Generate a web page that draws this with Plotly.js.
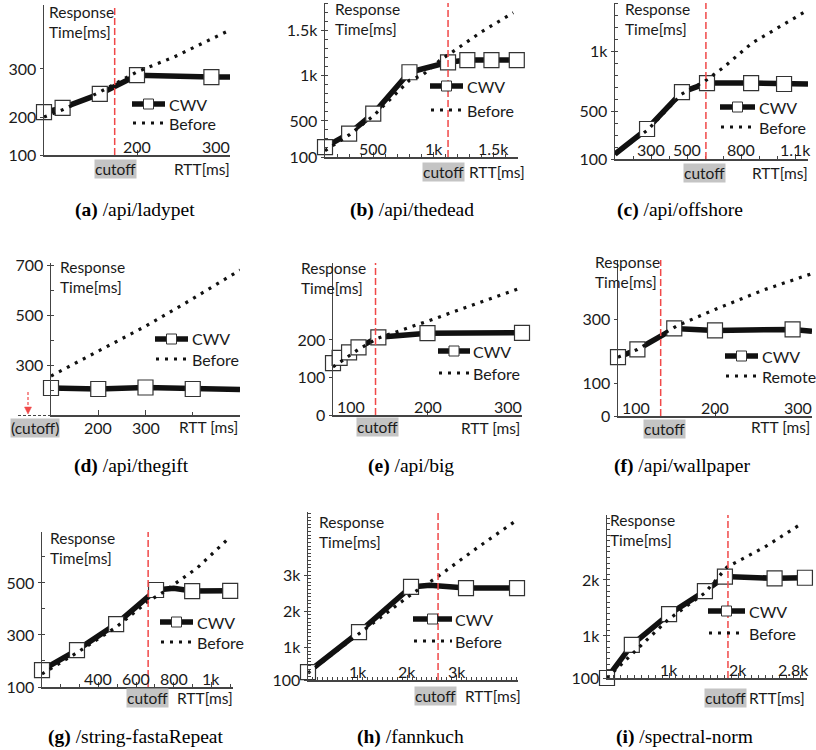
<!DOCTYPE html>
<html><head><meta charset="utf-8">
<script src="https://cdn.plot.ly/plotly-3.0.1.min.js"></script>
<style>body{margin:0;background:#fff}#chart{width:816px;height:750px}</style>
</head><body><div id="chart"></div>
<script>
// ---------- DATA ----------
const seriesNames = ['CWV', 'Before'];
const seriesNamesF = ['CWV', 'Remote'];
const captions = ['<b>(a)</b> /api/ladypet', '<b>(b)</b> /api/thedead', '<b>(c)</b> /api/offshore',
  '<b>(d)</b> /api/thegift', '<b>(e)</b> /api/big', '<b>(f)</b> /api/wallpaper',
  '<b>(g)</b> /string-fastaRepeat', '<b>(h)</b> /fannkuch', '<b>(i)</b> /spectral-norm'];
const yAxisTitle = 'Response<br>Time[ms]';
const cutoffLabel = 'cutoff';

// (a)
const a_rtt = [100, 120, 160, 200, 280, 300];
const a_cwv = [210, 219, 248, 287, 283, 283];
const a_mark = [1, 1, 1, 1, 1, 0];
const a_bRtt = [100, 120, 160, 200, 240, 300];
const a_before = [200, 215, 252, 294, 325, 381];
const a_cut = 176;
const a_xTicks = [200, 300], a_xText = ['200', '300'];
const a_yTicks = [121, 200, 300], a_yText = ['100', '200', '300'];
// (b)
const b_rtt = [100, 300, 500, 800, 1120, 1280, 1480, 1690];
const b_cwv = [210, 360, 580, 1040, 1150, 1175, 1175, 1175];
const b_mark = [1, 1, 1, 1, 1, 1, 1, 1];
const b_bRtt = [100, 300, 500, 800, 910, 1050, 1140, 1400, 1660];
const b_before = [170, 345, 555, 950, 1010, 1170, 1250, 1490, 1700];
const b_cut = 1120;
const b_xTicks = [500, 1000, 1500], b_xText = ['500', '1k', '1.5k'];
const b_yTicks = [100, 500, 1000, 1500], b_yText = ['100', '500', '1k', '1.5k'];
// (c)
const c_rtt = [100, 278, 472, 611, 856, 1039, 1172];
const c_cwv = [142, 350, 658, 733, 733, 725, 725];
const c_mark = [0, 1, 1, 1, 1, 1, 0];
const c_bRtt = [100, 280, 470, 600, 700, 860, 1170];
const c_before = [140, 340, 640, 750, 860, 1065, 1340];
const c_cut = 605;
const c_xTicks = [300, 500, 800, 1100], c_xText = ['300', '500', '800', '1.1k'];
const c_yTicks = [100, 500, 1000], c_yText = ['100', '500', '1k'];
// (d)
const d_rtt = [100, 200, 300, 400, 500];
const d_cwv = [208, 204, 210, 204, 202];
const d_mark = [1, 1, 1, 1, 0];
const d_bRtt = [100, 200, 300, 400, 500];
const d_before = [256, 355, 455, 565, 680];
const d_cut = null;
const d_xTicks = [200, 300], d_xText = ['200', '300'];
const d_yTicks = [300, 500, 700], d_yText = ['300', '500', '700'];
// (e)
const e_rtt = [100, 107, 117, 127, 148, 200, 300];
const e_cwv = [138, 152, 167, 180, 207, 218, 219];
const e_mark = [1, 1, 1, 1, 1, 1, 1];
const e_bRtt = [100, 127, 148, 200, 300];
const e_before = [128, 175, 205, 250, 340];
const e_cut = 145;
const e_xTicks = [100, 200, 300], e_xText = ['100', '200', '300'];
const e_yTicks = [0, 100, 200], e_yText = ['0', '100', '200'];
// (f)
const f_rtt = [100, 120, 158, 200, 280, 300];
const f_cwv = [182, 206, 271, 265, 268, 262];
const f_mark = [1, 1, 1, 1, 1, 0];
const f_bRtt = [100, 120, 160, 200, 250, 300];
const f_before = [182, 206, 278, 330, 390, 441];
const f_cut = 144;
const f_xTicks = [100, 200, 300], f_xText = ['100', '200', '300'];
const f_yTicks = [0, 100, 300], f_yText = ['0', '100', '300'];
// (g)
const g_rtt = [100, 286, 494, 706, 800, 898, 1100];
const g_cwv = [165, 242, 342, 473, 480, 469, 470];
const g_mark = [1, 1, 1, 1, 0, 1, 1];
const g_bRtt = [100, 286, 494, 660, 745, 925, 1100];
const g_before = [150, 232, 330, 427, 465, 558, 677];
const g_cut = 664;
const g_xTicks = [400, 600, 800, 1000], g_xText = ['400', '600', '800', '1k'];
const g_yTicks = [100, 300, 500], g_yText = ['100', '300', '500'];
// (h)
const h_rtt = [0, 1030, 2080, 2460, 3190, 4220];
const h_cwv = [320, 1420, 2670, 2720, 2640, 2640];
const h_mark = [1, 1, 1, 0, 1, 1];
const h_bRtt = [0, 1030, 2120, 2610, 3410, 4220];
const h_before = [290, 1380, 2500, 2945, 3745, 4520];
const h_cut = 2626;
const h_xTicks = [1000, 2000, 3000], h_xText = ['1k', '2k', '3k'];
const h_yTicks = [100, 1000, 2000, 3000], h_yText = ['100', '1k', '2k', '3k'];
// (i)
const i_rtt = [100, 460, 1000, 1520, 1810, 2530, 2970];
const i_cwv = [250, 840, 1390, 1800, 2060, 2030, 2040];
const i_mark = [1, 1, 1, 1, 1, 1, 1];
const i_bRtt = [100, 530, 985, 1520, 1840, 2390, 2940];
const i_before = [250, 750, 1290, 1770, 2230, 2590, 3020];
const i_cut = 1854;
const i_xTicks = [1000, 2000, 2800], i_xText = ['1k', '2k', '2.8k'];
const i_yTicks = [250, 1000, 2000], i_yText = ['100', '1k', '2k'];

// ---------- LAYOUT ----------
const W = 816, H = 750;
const PX = v => v / W, PY = v => 1 - v / H;
const FONT = 'Lato, "Open Sans", sans-serif';
const SERIF = '"Liberation Serif", "DejaVu Serif", serif';
const TXT = '#1a1a1a';
const AX = '#444';
const TICKSIZE = 16;
const LABELSIZE = 15.5;

const panels = [
  {rtt:a_rtt, cwv:a_cwv, mark:a_mark, bRtt:a_bRtt, before:a_before, cut:a_cut, xT:a_xTicks, xL:a_xText, yT:a_yTicks, yL:a_yText,
   box:[44,5,230,155], xr:[100,300], yr:[121,433], xMinor:null, yMinor:null, below:false,
   leg:[132,165,104,123,167], names:seriesNames, resp:[47,12], rttLab:[232,169,'RTT[ms]'], cutBox:[115,169], cap:[135,210]},
  {rtt:b_rtt, cwv:b_cwv, mark:b_mark, bRtt:b_bRtt, before:b_before, cut:b_cut, xT:b_xTicks, xL:b_xText, yT:b_yTicks, yL:b_yText,
   box:[325,3,518,157], xr:[100,1700], yr:[100,1808], xMinor:100, yMinor:100, below:false,
   leg:[430,463,86,110,465], names:seriesNames, resp:[333,9], rttLab:[527,172,'RTT[ms]'], cutBox:[444,172], cap:[412,210]},
  {rtt:c_rtt, cwv:c_cwv, mark:c_mark, bRtt:c_bRtt, before:c_before, cut:c_cut, xT:c_xTicks, xL:c_xText, yT:c_yTicks, yL:c_yText,
   box:[615,3,808,159], xr:[100,1172], yr:[100,1400], xMinor:100, yMinor:100, below:false,
   leg:[720,755,107,127,757], names:seriesNames, resp:[623,9], rttLab:[810,173,'RTT[ms]'], cutBox:[704,173], cap:[680,210]},
  {rtt:d_rtt, cwv:d_cwv, mark:d_mark, bRtt:d_bRtt, before:d_before, cut:d_cut, xT:d_xTicks, xL:d_xText, yT:d_yTicks, yL:d_yText,
   box:[51,263,240,415], xr:[100,500], yr:[100,708], xMinor:100, yMinor:100, below:true,
   leg:[155,188,339,359,190], names:seriesNames, resp:[58,267], rttLab:[240,427,'RTT [ms]'], cutBox:null, cap:[131,466]},
  {rtt:e_rtt, cwv:e_cwv, mark:e_mark, bRtt:e_bRtt, before:e_before, cut:e_cut, xT:e_xTicks, xL:e_xText, yT:e_yTicks, yL:e_yText,
   box:[333,263,522,415], xr:[100,300], yr:[0,405], xMinor:null, yMinor:null, below:false,
   leg:[438,470,351,373,471], names:seriesNames, resp:[299,268], rttLab:[522,428,'RTT [ms]'], cutBox:[377,427], cap:[411,466]},
  {rtt:f_rtt, cwv:f_cwv, mark:f_mark, bRtt:f_bRtt, before:f_before, cut:f_cut, xT:f_xTicks, xL:f_xText, yT:f_yTicks, yL:f_yText,
   box:[618,260,812,416], xr:[100,300], yr:[0,483], xMinor:null, yMinor:null, below:false,
   leg:[725,758,356,376,760], names:seriesNamesF, resp:[593,262], rttLab:[812,427,'RTT [ms]'], cutBox:[664,429], cap:[682,466]},
  {rtt:g_rtt, cwv:g_cwv, mark:g_mark, bRtt:g_bRtt, before:g_before, cut:g_cut, xT:g_xTicks, xL:g_xText, yT:g_yTicks, yL:g_yText,
   box:[42,532,233,687], xr:[100,1115], yr:[100,696], xMinor:100, yMinor:100, below:false,
   leg:[160,193,622,642,195], names:seriesNames, resp:[48,538], rttLab:[235,698,'RTT[ms]'], cutBox:[147,698], cap:[135,737]},
  {rtt:h_rtt, cwv:h_cwv, mark:h_mark, bRtt:h_bRtt, before:h_before, cut:h_cut, xT:h_xTicks, xL:h_xText, yT:h_yTicks, yL:h_yText,
   box:[308,512,518,680], xr:[0,4240], yr:[100,4740], xMinor:100, yMinor:100, below:false,
   leg:[413,452,619,641,453], names:seriesNames, resp:[317,522], rttLab:[523,696,'RTT[ms]'], cutBox:[435,696], cap:[410,737]},
  {rtt:i_rtt, cwv:i_cwv, mark:i_mark, bRtt:i_bRtt, before:i_before, cut:i_cut, xT:i_xTicks, xL:i_xText, yT:i_yTicks, yL:i_yText,
   box:[607,515,807,678], xr:[100,3000], yr:[250,3160], xMinor:100, yMinor:100, below:false,
   leg:[708,745,611,633,747], names:seriesNames, resp:[608,520], rttLab:[807,698,'RTT[ms]'], cutBox:[725,698], cap:[684,737]}
];

const traces = [], shapes = [], annotations = [];
const layout = {
  width: W, height: H, autosize: false,
  margin: {l: 0, r: 0, t: 0, b: 0},
  paper_bgcolor: '#fff', plot_bgcolor: 'rgba(0,0,0,0)',
  showlegend: false,
  font: {family: FONT, size: LABELSIZE, color: TXT}
};

const txt = (x, y, text, extra) => Object.assign({
  xref: 'paper', yref: 'paper', x: PX(x), y: PY(y), text: text, showarrow: false,
  xanchor: 'left', yanchor: 'middle', font: {family: FONT, size: LABELSIZE, color: TXT}
}, extra || {});

panels.forEach((p, k) => {
  const n = k + 1, sfx = n === 1 ? '' : String(n);
  const xa = 'x' + sfx, ya = 'y' + sfx;
  const [L, T, R, B] = p.box;
  layout['xaxis' + sfx] = {
    domain: [PX(L), PX(R)], range: p.xr, anchor: ya, fixedrange: true,
    showgrid: false, zeroline: false, showline: true, linecolor: AX, linewidth: 1.5,
    tickmode: 'array', tickvals: p.xT, showticklabels: false,
    ticks: 'inside', ticklen: 5, tickcolor: AX, tickwidth: 1,
    minor: p.xMinor ? {tickmode: 'linear', tick0: 0, dtick: p.xMinor, ticks: 'inside', ticklen: 3, tickcolor: AX, showgrid: false} : undefined
  };
  layout['yaxis' + sfx] = {
    domain: [PY(B), PY(T)], range: p.yr, anchor: xa, fixedrange: true,
    showgrid: false, zeroline: false, showline: true, linecolor: AX, linewidth: 1.5,
    tickmode: 'array', tickvals: p.yT, ticktext: p.yL,
    ticks: 'outside', ticklen: 3, tickcolor: AX, tickwidth: 1,
    tickfont: {family: FONT, size: TICKSIZE, color: TXT},
    minor: p.yMinor ? {tickmode: 'linear', tick0: 0, dtick: p.yMinor, ticks: 'inside', ticklen: 3, tickcolor: AX, showgrid: false} : undefined
  };

  // CWV line
  traces.push({x: p.rtt, y: p.cwv, xaxis: xa, yaxis: ya, mode: 'lines', cliponaxis: false,
    line: {color: '#111', width: 5.5}, hoverinfo: 'skip'});
  // CWV markers
  const mx = p.rtt.filter((_, j) => p.mark[j]), my = p.cwv.filter((_, j) => p.mark[j]);
  traces.push({x: mx, y: my, xaxis: xa, yaxis: ya, mode: 'markers', cliponaxis: false,
    marker: {symbol: 'square', size: 15, color: '#fff', line: {color: '#333', width: 1.2}}, hoverinfo: 'skip'});
  // Before (dotted)
  traces.push({x: p.bRtt, y: p.before, xaxis: xa, yaxis: ya, mode: 'lines', cliponaxis: false,
    line: {color: '#111', width: 3.2, dash: '3px,6px'}, hoverinfo: 'skip'});

  // cutoff line
  if (p.cut !== null) {
    shapes.push({type: 'line', xref: xa, yref: ya + ' domain', x0: p.cut, x1: p.cut, y0: 0, y1: 1,
      line: {color: '#f04848', width: 1.5, dash: '7px,3px'}});
  }

  // x tick labels
  p.xT.forEach((v, j) => {
    let anchor = 'center', shift = 0;
    if (v <= p.xr[0]) { anchor = 'left'; shift = 2; }
    else if (v >= p.xr[1]) { anchor = 'right'; shift = 2; }
    annotations.push({xref: xa, yref: 'paper', x: v, y: PY(p.below ? B + 12 : B - 9), text: p.xL[j],
      showarrow: false, xanchor: anchor, yanchor: 'middle', xshift: shift,
      font: {family: FONT, size: TICKSIZE, color: TXT}});
  });

  // legend
  const [l1, l2, yc, yb, tx] = p.leg;
  const mid = (l1 + l2) / 2;
  shapes.push({type: 'line', xref: 'paper', yref: 'paper', x0: PX(l1), x1: PX(l2), y0: PY(yc), y1: PY(yc),
    line: {color: '#111', width: 5.5}});
  shapes.push({type: 'rect', xref: 'paper', yref: 'paper', x0: PX(mid - 5), x1: PX(mid + 5), y0: PY(yc + 5), y1: PY(yc - 5),
    fillcolor: '#fff', line: {color: '#333', width: 1}});
  shapes.push({type: 'line', xref: 'paper', yref: 'paper', x0: PX(l1 + 1), x1: PX(l2), y0: PY(yb), y1: PY(yb),
    line: {color: '#111', width: 3.2, dash: '3px,6px'}});
  annotations.push(txt(tx, yc, p.names[0], {font: {family: FONT, size: 16, color: TXT}}));
  annotations.push(txt(tx, yb, p.names[1], {font: {family: FONT, size: 16, color: TXT}}));

  // Response time label
  annotations.push(txt(p.resp[0], p.resp[1] + 10, yAxisTitle, {align: 'left'}));
  // RTT label
  annotations.push(txt(p.rttLab[0], p.rttLab[1], p.rttLab[2], {xanchor: 'right'}));
  // cutoff box
  if (p.cutBox) {
    annotations.push(txt(p.cutBox[0], p.cutBox[1], cutoffLabel, {xanchor: 'center', bgcolor: '#c4c4c4', borderpad: 0}));
  }
  // caption
  annotations.push({xref: 'paper', yref: 'paper', x: PX(p.cap[0]), y: PY(p.cap[1]), text: captions[k],
    showarrow: false, xanchor: 'center', yanchor: 'middle', font: {family: SERIF, size: 19.5, color: '#000'}});
});

// (d) special "(cutoff)" marker at the origin
annotations.push(txt(35, 428, '(' + cutoffLabel + ')', {xanchor: 'center', bgcolor: '#c4c4c4', borderpad: 0}));
shapes.push({type: 'line', xref: 'paper', yref: 'paper', x0: PX(28), x1: PX(28), y0: PY(392), y1: PY(408),
  line: {color: '#f04848', width: 1.2, dash: '3px,2px'}});
shapes.push({type: 'path', xref: 'paper', yref: 'paper',
  path: 'M ' + PX(24.5) + ' ' + PY(407) + ' L ' + PX(31.5) + ' ' + PY(407) + ' L ' + PX(28) + ' ' + PY(414) + ' Z',
  fillcolor: '#f04848', line: {color: '#f04848', width: 0.5}});
shapes.push({type: 'line', xref: 'paper', yref: 'paper', x0: PX(18), x1: PX(51), y0: PY(415.5), y1: PY(415.5),
  line: {color: '#444', width: 1.2, dash: '3px,2px'}});

layout.shapes = shapes;
layout.annotations = annotations;

Plotly.newPlot('chart', traces, layout, {displayModeBar: false, staticPlot: true});
</script>
</body></html>
